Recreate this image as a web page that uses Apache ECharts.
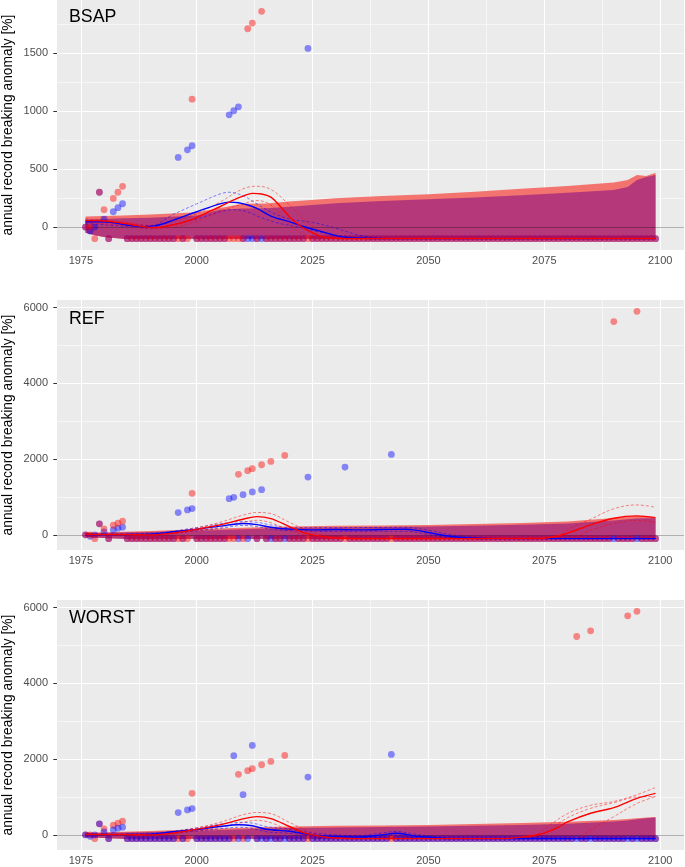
<!DOCTYPE html>
<html><head><meta charset="utf-8">
<script src="https://cdn.jsdelivr.net/npm/echarts@6/dist/echarts.min.js"></script>
<style>html,body{margin:0;padding:0;background:#fff}#c{width:685px;height:867px}</style>
</head><body><div id="c"></div>
<script>
// ---------- axes / labels ----------
const FIRST_YEAR = 1976, LAST_YEAR = 2099;
const X_TICKS = [1975, 2000, 2025, 2050, 2075, 2100];
const X_MINOR = [1987.5, 2012.5, 2037.5, 2062.5, 2087.5];
const Y_TICKS_BSAP = [0, 500, 1000, 1500];
const Y_MINOR_BSAP = [250, 750, 1250, 1750];
const Y_TICKS_SCEN = [0, 2000, 4000, 6000];
const Y_MINOR_SCEN = [1000, 3000, 5000];
const PANEL_NAMES = ['BSAP', 'REF', 'WORST'];
const Y_TITLE = 'annual record breaking anomaly [%]';

// ---------- annual points (1976..2099) ----------
const BSAP_RED = [
  0, 0, -100, 300,
  150, -100, 247, 300, 351, -100, -100, -100, -100, -100,
  -100, -100, -100, -100, -100, -100, -100, -100, -100, 1103,
  -100, -100, -100, -100, -100, -100, -100, -100, -100, -100,
  -100, 1710, 1759, -100, 1860, -100, -100, -100, -100, -100,
  -100, -100, -100, -100, -100, -100, -100, -100, -100, -100,
  -100, -100, -100, -100, -100, -100, -100, -100, -100, -100,
  -100, -100, -100, -100, -100, -100, -100, -100, -100, -100,
  -100, -100, -100, -100, -100, -100, -100, -100, -100, -100,
  -100, -100, -100, -100, -100, -100, -100, -100, -100, -100,
  -100, -100, -100, -100, -100, -100, -100, -100, -100, -100,
  -100, -100, -100, -100, -100, -100, -100, -100, -100, -100,
  -100, -100, -100, -100, -100, -100, -100, -100, -100, -100];
const BSAP_BLUE = [
  0, -35, 0, 300,
  69, -100, 132, 167, 201, -100, -100, -100, -100, -100,
  -100, -100, -100, -100, -100, -100, 600, -100, 666, 701,
  -100, -100, -100, -100, -100, -100, -100, 968, 1003, 1037,
  -100, -100, -100, -100, -100, -100, -100, -100, -100, -100,
  -100, -100, -100, -100, 1540, -100, -100, -100, -100, -100,
  -100, -100, -100, -100, -100, -100, -100, -100, -100, -100,
  -100, -100, -100, -100, -100, -100, -100, -100, -100, -100,
  -100, -100, -100, -100, -100, -100, -100, -100, -100, -100,
  -100, -100, -100, -100, -100, -100, -100, -100, -100, -100,
  -100, -100, -100, -100, -100, -100, -100, -100, -100, -100,
  -100, -100, -100, -100, -100, -100, -100, -100, -100, -100,
  -100, -100, -100, -100, -100, -100, -100, -100, -100, -100];
const REF_RED = [
  0, 0, -100, 290,
  160, -100, 254, 307, 360, -100, -100, -100, -100, -100,
  -100, -100, -100, -100, -100, -100, -100, -100, -100, 1096,
  -100, -100, -100, -100, -100, -100, -100, -100, -100, 1597,
  -100, 1693, 1746, -100, 1851, -100, 1939, -100, -100, 2096,
  -100, -100, -100, -100, -100, -100, -100, -100, -100, -100,
  -100, -100, -100, -100, -100, -100, -100, -100, -100, -100,
  -100, -100, -100, -100, -100, -100, -100, -100, -100, -100,
  -100, -100, -100, -100, -100, -100, -100, -100, -100, -100,
  -100, -100, -100, -100, -100, -100, -100, -100, -100, -100,
  -100, -100, -100, -100, -100, -100, -100, -100, -100, -100,
  -100, -100, -100, -100, -100, -100, -100, -100, -100, -100,
  5631, -100, -100, -100, -100, 5900, -100, -100, -100, -100];
const REF_BLUE = [
  0, -40, 0, 290,
  80, -100, 132, 175, 202, -100, -100, -100, -100, -100,
  -100, -100, -100, -100, -100, -100, 588, -100, 658, 693,
  -100, -100, -100, -100, -100, -100, -100, 956, 991, -100,
  1061, -100, 1132, -100, 1193, -100, -100, -100, -100, -100,
  -100, -100, -100, -100, 1526, -100, -100, -100, -100, -100,
  -100, -100, 1790, -100, -100, -100, -100, -100, -100, -100,
  -100, -100, 2123, -100, -100, -100, -100, -100, -100, -100,
  -100, -100, -100, -100, -100, -100, -100, -100, -100, -100,
  -100, -100, -100, -100, -100, -100, -100, -100, -100, -100,
  -100, -100, -100, -100, -100, -100, -100, -100, -100, -100,
  -100, -100, -100, -100, -100, -100, -100, -100, -100, -100,
  -100, -100, -100, -100, -100, -100, -100, -100, -100, -100];
const WORST_RED = [
  0, 0, -100, 290,
  160, -100, 254, 307, 360, -100, -100, -100, -100, -100,
  -100, -100, -100, -100, -100, -100, -100, -100, -100, 1096,
  -100, -100, -100, -100, -100, -100, -100, -100, -100, 1597,
  -100, 1693, 1746, -100, 1851, -100, 1939, -100, -100, 2096,
  -100, -100, -100, -100, -100, -100, -100, -100, -100, -100,
  -100, -100, -100, -100, -100, -100, -100, -100, -100, -100,
  -100, -100, -100, -100, -100, -100, -100, -100, -100, -100,
  -100, -100, -100, -100, -100, -100, -100, -100, -100, -100,
  -100, -100, -100, -100, -100, -100, -100, -100, -100, -100,
  -100, -100, -100, -100, -100, -100, -100, -100, -100, -100,
  -100, -100, 5237, -100, -100, 5386, -100, -100, -100, -100,
  -100, -100, -100, 5781, -100, 5900, -100, -100, -100, -100];
const WORST_BLUE = [
  0, -40, 0, 290,
  80, -100, 132, 175, 202, -100, -100, -100, -100, -100,
  -100, -100, -100, -100, -100, -100, 588, -100, 658, 693,
  -100, -100, -100, -100, -100, -100, -100, -100, 2088, -100,
  1061, -100, 2360, -100, -100, -100, -100, -100, -100, -100,
  -100, -100, -100, -100, 1526, -100, -100, -100, -100, -100,
  -100, -100, -100, -100, -100, -100, -100, -100, -100, -100,
  -100, -100, 2123, -100, -100, -100, -100, -100, -100, -100,
  -100, -100, -100, -100, -100, -100, -100, -100, -100, -100,
  -100, -100, -100, -100, -100, -100, -100, -100, -100, -100,
  -100, -100, -100, -100, -100, -100, -100, -100, -100, -100,
  -100, -100, -100, -100, -100, -100, -100, -100, -100, -100,
  -100, -100, -100, -100, -100, -100, -100, -100, -100, -100];

// ---------- ensemble envelopes (areas) ----------
const AREA_YEARS = [1976, 1978, 1980, 1984, 1990, 2000, 2005, 2010, 2015, 2020, 2030, 2040, 2050, 2060, 2070, 2080, 2090, 2093, 2095, 2097, 2099];
const AREA_LOWER = [-50, -70, -85, -100, -100, -100, -100, -100, -100, -100, -100, -100, -100, -100, -100, -100, -100, -100, -100, -100, -100];
const BSAP_RED_TOP  = [90, 92, 95, 100, 108, 128, 165, 200, 202, 220, 248, 268, 282, 305, 330, 355, 385, 405, 448, 440, 468];
const BSAP_BLUE_TOP = [65, 67, 70, 75, 80, 100, 150, 160, 162, 175, 205, 225, 239, 255, 275, 295, 320, 345, 405, 431, 448];
const REF_RED_TOP   = [60, 62, 70, 80, 100, 150, 170, 190, 205, 220, 237, 250, 263, 285, 310, 350, 447, 480, 500, 490, 465];
const REF_BLUE_TOP  = [40, 42, 50, 60, 75, 110, 130, 150, 165, 180, 195, 207, 218, 240, 265, 300, 377, 410, 430, 435, 438];
const WORST_RED_TOP = [60, 62, 70, 80, 100, 150, 170, 190, 205, 220, 237, 250, 263, 285, 310, 345, 394, 420, 440, 460, 473];
const WORST_BLUE_TOP= [40, 42, 50, 60, 75, 110, 130, 150, 165, 180, 195, 208, 220, 240, 260, 290, 350, 380, 410, 440, 455];

// ---------- smoothed fits [year, value] ----------
const BSAP_RED_FIT = [[1976,55],[1980,52],[1985,28],[1988,6],[1991,-5],[1995,20],[1999,65],[2002,120],[2005,175],[2008,235],[2010,267],[2012,290],[2014,285],[2016,258],[2018,180],[2020,89],[2022,20],[2024,-30],[2027,-83],[2030,-97],[2035,-100],[2099,-100]];
const BSAP_RED_HI  = [[1976,70],[1985,40],[1990,15],[1995,50],[2000,115],[2005,215],[2010,330],[2013,352],[2016,325],[2020,190],[2023,70],[2026,-20],[2030,-80],[2034,-100],[2099,-100]];
const BSAP_RED_LO  = [[1976,40],[1985,10],[1990,-15],[1995,0],[2000,50],[2005,135],[2010,200],[2013,228],[2016,190],[2020,20],[2023,-60],[2026,-95],[2030,-100],[2099,-100]];
const BSAP_BLUE_FIT= [[1976,46],[1980,46],[1985,18],[1988,4],[1991,10],[1995,60],[2000,132],[2005,200],[2007,215],[2009,210],[2011,190],[2013,160],[2016,95],[2020,46],[2023,5],[2027,-40],[2031,-83],[2035,-95],[2040,-100],[2099,-100]];
const BSAP_BLUE_HI = [[1976,60],[1985,25],[1990,12],[1995,110],[2000,200],[2005,285],[2007,300],[2010,270],[2013,200],[2016,130],[2020,70],[2025,40],[2030,-10],[2035,-70],[2040,-95],[2045,-100],[2099,-100]];
const BSAP_BLUE_LO = [[1976,30],[1985,5],[1990,-10],[1995,20],[2000,70],[2005,130],[2008,150],[2011,130],[2014,80],[2018,30],[2022,0],[2026,-40],[2030,-70],[2035,-95],[2040,-100],[2099,-100]];

const REF_RED_FIT = [[1976,10],[1985,5],[1990,0],[1995,50],[2000,150],[2005,263],[2010,412],[2013,482],[2016,430],[2020,219],[2023,60],[2025,0],[2028,-60],[2031,-90],[2035,-100],[2072,-100],[2075,-88],[2078,-30],[2080,44],[2085,263],[2090,439],[2095,500],[2099,456]];
const REF_RED_HI  = [[1976,30],[1990,20],[2000,190],[2005,330],[2010,520],[2013,590],[2016,560],[2020,330],[2025,60],[2030,-60],[2035,-100],[2076,-100],[2078,-40],[2080,131],[2085,412],[2090,690],[2095,790],[2099,728]];
const REF_RED_LO  = [[1976,-10],[1990,-20],[2000,110],[2005,200],[2010,330],[2013,385],[2016,320],[2020,120],[2025,-50],[2030,-100],[2080,-100],[2085,120],[2090,300],[2095,380],[2099,330]];
const REF_BLUE_FIT= [[1976,0],[1985,10],[1990,20],[1995,80],[2000,149],[2005,230],[2010,300],[2013,270],[2016,200],[2020,150],[2025,131],[2030,140],[2035,131],[2040,140],[2045,149],[2048,110],[2050,61],[2055,-44],[2060,-90],[2065,-100],[2099,-100]];
const REF_BLUE_HI = [[1976,20],[1990,40],[2000,190],[2005,290],[2010,350],[2013,330],[2016,260],[2020,190],[2030,190],[2045,200],[2050,120],[2055,0],[2060,-60],[2065,-100],[2099,-100]];
const REF_BLUE_LO = [[1976,-20],[1990,0],[2000,110],[2005,170],[2010,250],[2013,220],[2016,150],[2020,110],[2030,90],[2045,95],[2050,10],[2055,-80],[2060,-100],[2099,-100]];

const WORST_RED_FIT = [[1976,10],[1985,5],[1990,0],[1995,50],[2000,150],[2005,263],[2010,420],[2013,480],[2016,430],[2020,220],[2023,60],[2025,0],[2028,-60],[2031,-90],[2035,-100],[2066,-100],[2070,-60],[2073,-10],[2075,44],[2078,200],[2080,340],[2085,570],[2090,718],[2095,964],[2099,1096]];
const WORST_RED_HI  = [[1976,30],[1990,20],[2000,190],[2005,330],[2010,530],[2013,590],[2016,560],[2020,330],[2025,60],[2030,-60],[2035,-100],[2070,-100],[2073,-20],[2075,150],[2080,560],[2085,780],[2090,880],[2095,1060],[2099,1250]];
const WORST_RED_MID = [[2068,-100],[2072,-60],[2075,60],[2080,450],[2085,700],[2090,850],[2095,1000],[2099,1010]];
const WORST_RED_LO  = [[1976,-10],[1990,-20],[2000,110],[2005,200],[2010,330],[2013,385],[2016,320],[2020,120],[2025,-50],[2030,-100],[2080,-100],[2083,-30],[2085,131],[2090,480],[2095,830],[2099,1010]];
const WORST_BLUE_FIT= [[1976,0],[1985,10],[1990,20],[1995,80],[2000,140],[2005,220],[2009,265],[2012,240],[2015,149],[2020,96],[2025,0],[2030,-44],[2035,-61],[2040,0],[2043,44],[2047,-26],[2050,-60],[2055,-100],[2099,-100]];
const WORST_BLUE_HI = [[1976,20],[1990,40],[2000,180],[2005,280],[2009,330],[2012,310],[2015,220],[2020,150],[2025,50],[2030,0],[2035,-20],[2040,50],[2043,90],[2047,20],[2050,-30],[2055,-100],[2099,-100]];
const WORST_BLUE_LO = [[1976,-20],[1990,0],[2000,100],[2005,160],[2009,200],[2012,170],[2015,80],[2020,40],[2025,-50],[2030,-90],[2035,-100],[2040,-50],[2043,0],[2047,-70],[2050,-100],[2099,-100]];

// ---------- build ----------
const YEARS = [];
for (let y = FIRST_YEAR; y <= LAST_YEAR; y++) YEARS.push(y);

const FONT = 'Liberation Sans, Arial, Helvetica, sans-serif';
const RED_PT = 'rgba(255,0,0,0.55)', BLUE_PT = 'rgba(0,0,255,0.55)';
const RED_AREA = '#F3736F', BLUE_AREA = '#B5397A';

const panels = [
  {name: PANEL_NAMES[0], top: 0, ymin: -198, ymax: 1958, ticks: Y_TICKS_BSAP, minor: Y_MINOR_BSAP,
   red: BSAP_RED, blue: BSAP_BLUE, redTop: BSAP_RED_TOP, blueTop: BSAP_BLUE_TOP,
   redFit: BSAP_RED_FIT, redDash: [BSAP_RED_HI, BSAP_RED_LO], blueFit: BSAP_BLUE_FIT, blueDash: [BSAP_BLUE_HI, BSAP_BLUE_LO],
   blueOnTop: false, labelDy: 17},
  {name: PANEL_NAMES[1], top: 300, ymin: -400, ymax: 6200, ticks: Y_TICKS_SCEN, minor: Y_MINOR_SCEN,
   red: REF_RED, blue: REF_BLUE, redTop: REF_RED_TOP, blueTop: REF_BLUE_TOP,
   redFit: REF_RED_FIT, redDash: [REF_RED_HI, REF_RED_LO], blueFit: REF_BLUE_FIT, blueDash: [REF_BLUE_HI, REF_BLUE_LO],
   blueOnTop: false, labelDy: 19},
  {name: PANEL_NAMES[2], top: 600, ymin: -400, ymax: 6200, ticks: Y_TICKS_SCEN, minor: Y_MINOR_SCEN,
   red: WORST_RED, blue: WORST_BLUE, redTop: WORST_RED_TOP, blueTop: WORST_BLUE_TOP,
   redFit: WORST_RED_FIT, redDash: [WORST_RED_HI, WORST_RED_MID, WORST_RED_LO], blueFit: WORST_BLUE_FIT, blueDash: [WORST_BLUE_HI, WORST_BLUE_LO],
   blueOnTop: true, labelDy: 18}
];

const grids = [], xAxes = [], yAxes = [], series = [], graphics = [];
const PLOT_H = 250;
const plain = v => String(v);

panels.forEach((p, gi) => {
  grids.push({left: 57, top: p.top, width: 627, height: PLOT_H, show: true, backgroundColor: '#EBEBEB', borderWidth: 0, containLabel: false});
  xAxes.push({gridIndex: gi, type: 'value', min: 1969.85, max: 2105.15,
    axisLine: {show: false}, splitLine: {show: false},
    axisTick: {show: true, customValues: X_TICKS, length: 3.7, lineStyle: {color: '#333', width: 1}},
    axisLabel: {customValues: X_TICKS, formatter: plain, color: '#4D4D4D', fontSize: 11, fontFamily: FONT, margin: 5}});
  yAxes.push({gridIndex: gi, type: 'value', min: p.ymin, max: p.ymax,
    axisLine: {show: false}, splitLine: {show: false},
    axisTick: {show: true, customValues: p.ticks, length: 3.7, lineStyle: {color: '#333', width: 1}},
    axisLabel: {customValues: p.ticks, formatter: plain, color: '#4D4D4D', fontSize: 11, fontFamily: FONT, margin: 9}});

  const ax = {xAxisIndex: gi, yAxisIndex: gi};
  // grid lines
  const gl = [];
  X_TICKS.forEach(v => gl.push({xAxis: v, lineStyle: {width: 1.1}}));
  X_MINOR.forEach(v => gl.push({xAxis: v, lineStyle: {width: 0.55}}));
  p.ticks.forEach(v => gl.push({yAxis: v, lineStyle: {width: 1.1}}));
  p.minor.forEach(v => gl.push({yAxis: v, lineStyle: {width: 0.55}}));
  series.push(Object.assign({type: 'line', data: [], z: 1, silent: true,
    markLine: {silent: true, z: 1, symbol: 'none', label: {show: false}, animation: false,
      lineStyle: {color: '#FFFFFF', type: 'solid'}, data: gl}}, ax));

  // envelope bands as polygons through the axes' scales
  const band = (top, color, z) => series.push(Object.assign({type: 'custom', z: z, silent: true,
    data: [[AREA_YEARS[0], top[0]]],
    renderItem: (params, api) => {
      const pts = [];
      AREA_YEARS.forEach((y, i) => pts.push(api.coord([y, top[i]])));
      for (let i = AREA_YEARS.length - 1; i >= 0; i--) pts.push(api.coord([AREA_YEARS[i], AREA_LOWER[i]]));
      return {type: 'polygon', shape: {points: pts}, style: {fill: color}};
    }}, ax));
  band(p.redTop, RED_AREA, 2);
  band(p.blueTop, BLUE_AREA, 3);

  // zero line
  series.push(Object.assign({type: 'line', data: [], z: 4, silent: true,
    markLine: {silent: true, z: 4, symbol: 'none', label: {show: false}, animation: false,
      lineStyle: {color: 'rgba(0,0,0,0.35)', width: 0.9, type: 'solid'}, data: [{yAxis: 0}]}}, ax));

  // points
  const pts = (vals, color, z) => series.push(Object.assign({type: 'scatter', z: z, silent: true,
    symbol: 'circle', symbolSize: 6.8, itemStyle: {color: color, borderWidth: 0},
    data: YEARS.map((y, i) => [y, vals[i]])}, ax));
  if (p.blueOnTop) { pts(p.red, RED_PT, 5); pts(p.blue, BLUE_PT, 6); }
  else { pts(p.blue, BLUE_PT, 5); pts(p.red, RED_PT, 6); }

  // dashed confidence lines and fits
  const line = (d, color, w, dashed, op, z) => series.push(Object.assign({type: 'line', z: z, silent: true,
    symbol: 'none', smooth: 0.35, data: d,
    lineStyle: {color: color, width: w, type: dashed ? [3, 2] : 'solid', opacity: op}}, ax));
  p.blueDash.forEach(d => line(d, '#0000FF', 0.8, true, 0.6, 7));
  p.redDash.forEach(d => line(d, '#FF0000', 0.8, true, 0.6, 7));
  line(p.blueFit, '#0000FF', 1.4, false, 1, 8);
  line(p.redFit, '#FF0000', 1.4, false, 1, 9);

  // panel label & y title
  graphics.push({type: 'text', left: 69, top: p.top + p.labelDy - 9, silent: true, z: 20,
    style: {text: p.name, font: '17.8px ' + FONT, fill: '#000'}});
  graphics.push({type: 'text', x: 8, y: p.top + PLOT_H / 2, rotation: Math.PI / 2, silent: true, z: 20,
    style: {text: Y_TITLE, font: '13.8px ' + FONT, fill: '#000', align: 'center', verticalAlign: 'middle'}});
});

const chart = echarts.init(document.getElementById('c'), null, {renderer: 'canvas'});
chart.setOption({animation: false, grid: grids, xAxis: xAxes, yAxis: yAxes, series: series, graphic: graphics});
</script></body></html>
